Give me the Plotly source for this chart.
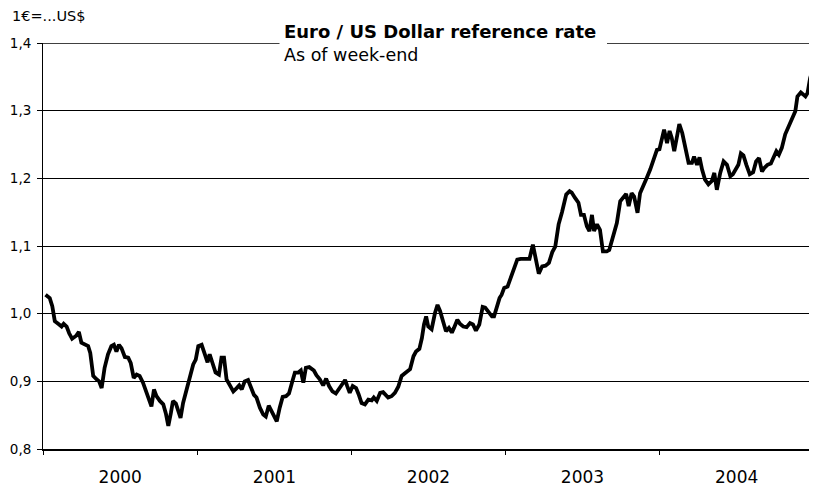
import pandas as pd
import plotly.graph_objects as go

# ---- data: weekly Euro / US dollar reference rate ----
days_since_2000 = [
    6, 16, 22, 28, 36, 44, 49, 56, 62, 69, 78, 85, 91, 99, 107, 112, 119, 127, 133, 139,
    146, 154, 162, 168, 174, 180, 186, 194, 202, 208, 215, 222, 229, 237, 244, 251, 257, 263, 269, 277,
    285, 291, 297, 303, 308, 315, 320, 326, 332, 340, 348, 356, 362, 368, 376, 384, 390, 395, 402, 409,
    417, 423, 429, 435, 443, 451, 459, 465, 471, 478, 486, 493, 500, 506, 514, 522, 528, 535, 542, 548,
    554, 561, 568, 576, 583, 591, 597, 605, 611, 617, 623, 631,
    642, 648, 656, 664, 671, 678, 686, 694, 702, 710, 716, 721, 727, 734, 742, 748, 755, 763, 771, 779,
    784, 791, 799, 806, 813, 818, 826, 834, 842, 850, 860, 870, 878, 884, 892, 898, 903, 908, 913, 921,
    929, 935, 941, 949, 955, 962, 969, 974, 982, 988, 996, 1004, 1012, 1019, 1026, 1034, 1042, 1048, 1056, 1064,
    1069, 1075, 1082, 1087, 1093, 1101, 1109, 1116, 1124, 1132, 1140, 1147, 1153, 1161, 1167, 1175, 1183, 1191, 1199, 1207,
    1214, 1222, 1230,
    1240, 1248, 1253, 1261, 1269, 1275, 1282, 1289, 1295, 1301, 1306, 1313, 1320, 1327, 1336, 1342, 1351, 1360, 1368, 1376,
    1382, 1388, 1395, 1401, 1409, 1415, 1423, 1431, 1439, 1447, 1455, 1461, 1467, 1472, 1479, 1485, 1490, 1496, 1502, 1508,
    1515, 1522, 1530, 1538, 1543, 1550, 1556, 1562, 1569, 1577, 1585, 1591, 1597, 1605, 1613, 1621, 1629, 1635, 1643, 1648,
    1654, 1660, 1667, 1675, 1683, 1690, 1697, 1704, 1709, 1717, 1725, 1731, 1738, 1744, 1751, 1759, 1767, 1775, 1783, 1788,
    1796, 1807, 1812, 1818, 1824,
]

eur_usd = [
    1.028, 1.023, 1.011, 0.989, 0.985, 0.981, 0.985, 0.981, 0.971, 0.963, 0.967, 0.973, 0.957, 0.955, 0.952, 0.942, 0.908, 0.903, 0.900, 0.890,
    0.920, 0.940, 0.952, 0.954, 0.944, 0.954, 0.949, 0.936, 0.935, 0.927, 0.905, 0.910, 0.908, 0.898, 0.885, 0.871, 0.863, 0.888, 0.878, 0.871,
    0.866, 0.853, 0.834, 0.853, 0.871, 0.867, 0.856, 0.846, 0.868, 0.888, 0.903, 0.925, 0.932, 0.952, 0.954, 0.940, 0.928, 0.940, 0.925, 0.913,
    0.910, 0.935, 0.935, 0.903, 0.894, 0.885, 0.890, 0.894, 0.888, 0.900, 0.902, 0.890, 0.880, 0.876, 0.861, 0.851, 0.848, 0.864, 0.856, 0.848,
    0.841, 0.861, 0.877, 0.878, 0.882, 0.900, 0.913, 0.913, 0.916, 0.898, 0.920, 0.921,
    0.916, 0.909, 0.903, 0.894, 0.904, 0.893, 0.885, 0.882, 0.889, 0.897, 0.902, 0.893, 0.883, 0.893, 0.890, 0.881, 0.868, 0.866, 0.873, 0.872,
    0.876, 0.871, 0.883, 0.884, 0.878, 0.876, 0.878, 0.883, 0.892, 0.908, 0.913, 0.918, 0.937, 0.944, 0.948, 0.964, 0.984, 0.996, 0.981, 0.977,
    1.001, 1.013, 1.004, 0.989, 0.974, 0.979, 0.972, 0.979, 0.991, 0.985, 0.981, 0.980, 0.986, 0.984, 0.975, 0.984, 1.010, 1.009, 1.002, 0.996,
    0.996, 1.011, 1.023, 1.028, 1.038, 1.040, 1.053, 1.068, 1.080, 1.081, 1.081, 1.082, 1.081, 1.102, 1.085, 1.059, 1.070, 1.071, 1.075, 1.091,
    1.099, 1.132, 1.150,
    1.176, 1.181, 1.179, 1.171, 1.164, 1.146, 1.146, 1.129, 1.122, 1.146, 1.122, 1.132, 1.124, 1.092, 1.092, 1.094, 1.114, 1.134, 1.166, 1.173,
    1.177, 1.159, 1.178, 1.173, 1.149, 1.178, 1.191, 1.201, 1.213, 1.228, 1.242, 1.243, 1.262, 1.272, 1.252, 1.270, 1.260, 1.240, 1.260, 1.280,
    1.267, 1.247, 1.223, 1.223, 1.232, 1.220, 1.231, 1.213, 1.198, 1.191, 1.196, 1.208, 1.183, 1.208, 1.225, 1.220, 1.203, 1.206, 1.214, 1.220,
    1.237, 1.234, 1.220, 1.206, 1.209, 1.225, 1.230, 1.210, 1.215, 1.220, 1.222, 1.232, 1.240, 1.235, 1.245, 1.265, 1.277, 1.287, 1.299, 1.321,
    1.327, 1.321, 1.326, 1.348, 1.360,
]

y_ticks = [0.8, 0.9, 1.0, 1.1, 1.2, 1.3, 1.4]
title_text = "Euro / US Dollar reference rate"
subtitle_text = "As of week-end"
unit_text = "1€=...US$"

dates = pd.Timestamp("2000-01-01") + pd.to_timedelta(days_since_2000, unit="D")

# ---- layout geometry (page has an 8px body margin) ----
OFF = 8
W, H = 817 - OFF, 486 - OFF
ML, MR, MT, MB = 43 - OFF, 1, 43 - OFF, 37
PW, PH = W - ML - MR, H - MT - MB


def px(x):  # page x -> paper
    return (x - OFF - ML) / PW


def py(y):  # page y -> paper
    return (H - MB - (y - OFF)) / PH


FONT = "DejaVu Sans, Verdana, sans-serif"

fig = go.Figure()
fig.add_trace(go.Scatter(
    x=dates, y=eur_usd, mode="lines",
    line=dict(color="#000000", width=3.8),
    hoverinfo="skip", showlegend=False,
))

fig.update_layout(
    width=W, height=H,
    margin=dict(l=ML, r=MR, t=MT, b=MB, pad=0, autoexpand=False),
    paper_bgcolor="white", plot_bgcolor="white",
    separators=", ",
    font=dict(family=FONT, color="#000000"),
    xaxis=dict(
        type="date",
        range=["2000-01-01", "2005-01-06"],
        tick0="2000-01-01", dtick="M12",
        tickformat="%Y", ticklabelmode="period",
        ticks="outside", ticklen=4, tickwidth=1, tickcolor="#000",
        showline=True, linecolor="#000", linewidth=1.5,
        showgrid=False, zeroline=False, automargin=False,
        tickfont=dict(size=17, family=FONT, color="#000"),
        ticklabelstandoff=8,
    ),
    yaxis=dict(
        range=[0.8, 1.4],
        tickvals=y_ticks, tickformat=".1f",
        ticks="outside", ticklen=5, tickwidth=1, tickcolor="#000",
        showline=True, linecolor="#000", linewidth=1,
        showgrid=True, gridcolor="#000", gridwidth=1.3,
        zeroline=False, automargin=False,
        tickfont=dict(size=13.5, family=FONT, color="#000"),
        ticklabelstandoff=3,
    ),
    shapes=[
        # top gridline at 1,4 (plotly omits the grid line on the range edge)
        dict(type="line", xref="paper", yref="y", x0=0, x1=1, y0=1.4, y1=1.4,
             line=dict(color="#000", width=1.6), layer="below"),
        # white box behind the title
        dict(type="rect", xref="paper", yref="paper",
             x0=px(279.5), x1=px(607), y0=py(50), y1=py(36),
             fillcolor="white", line=dict(width=0), layer="above"),
    ],
    annotations=[
        dict(text="<b>" + title_text + "</b>", xref="paper", yref="paper",
             x=px(282), y=py(31.5), xanchor="left", yanchor="middle",
             showarrow=False, font=dict(size=18, family=FONT, color="#000")),
        dict(text=subtitle_text, xref="paper", yref="paper",
             x=px(282), y=py(55), xanchor="left", yanchor="middle",
             showarrow=False, font=dict(size=17.5, family=FONT, color="#000")),
        dict(text=unit_text, xref="paper", yref="paper",
             x=px(10), y=py(15.5), xanchor="left", yanchor="middle",
             showarrow=False, font=dict(size=14.5, family=FONT, color="#000")),
    ],
)

fig.write_html("out.html")
